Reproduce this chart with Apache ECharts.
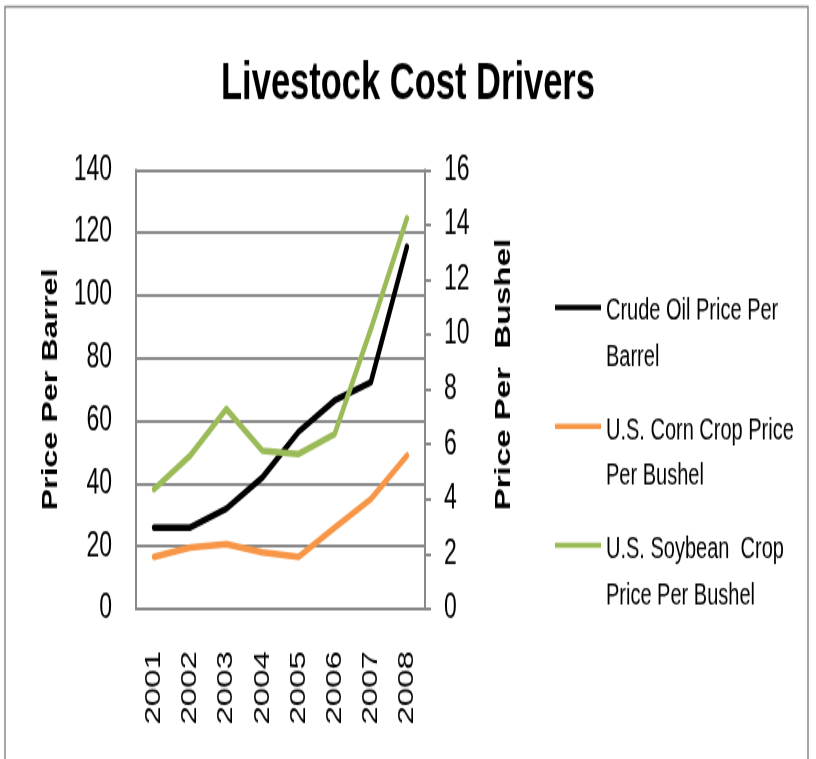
<!DOCTYPE html>
<html>
<head>
<meta charset="utf-8">
<script src="https://cdn.jsdelivr.net/npm/echarts@6/dist/echarts.min.js"></script>
<style>
  html, body { margin: 0; padding: 0; background: #fff; }
  body { width: 816px; height: 759px; }
  /* the source picture is stretched vertically, so the chart is drawn short and scaled up */
  #main { width: 816px; height: 506px; transform: scaleY(1.5); transform-origin: 0 0; }
</style>
</head>
<body>
<div id="main"></div>
<script>
// 数据
const years = ["2001", "2002", "2003", "2004", "2005", "2006", "2007", "2008"]
const seriesNames = ["Crude Oil Price Per Barrel", "U.S. Corn Crop Price Per Bushel", "U.S. Soybean Crop Price Per Bushel"]
const legendLabels = ["Crude Oil Price Per\nBarrel", "U.S. Corn Crop Price\nPer Bushel", "U.S. Soybean  Crop\nPrice Per Bushel"]
const crudeOil = [26, 26, 32, 42, 56.5, 66.5, 72.3, 115.5]
const corn = [1.9, 2.24, 2.36, 2.06, 1.9, 2.97, 4.01, 5.59]
const soybean = [4.37, 5.59, 7.29, 5.77, 5.65, 6.38, 10.2, 14.24]
const colors = ["#000000", "#F79646", "#9BBB59"]

const font = "Liberation Sans, Arial, sans-serif"
const gray = "#898989"

const myChart = echarts.init(document.getElementById("main"))

// 图例图标：顶部一条横线，底部一个不可见点把图标撑高
const legendIcon = "path://M0,0L46,0L46,3.5L0,3.5Z M0,40L0.1,40"

const option = {
  animation: false,
  title: {
    text: "Livestock Cost Drivers",
    left: "center",
    top: 34,
    textStyle: { fontFamily: font, fontSize: 34.5, fontWeight: "bold", color: "#000" },
  },
  graphic: [
    {
      type: "rect",
      shape: { x: 5, y: 4.5, width: 803, height: 600 },
      style: { fill: "none", stroke: gray, lineWidth: 1.5 },
      silent: true,
    },
  ],
  legend: {
    orient: "vertical",
    left: 550,
    top: 187.5,
    itemGap: 17.9,
    itemWidth: 46,
    itemHeight: 40,
    icon: legendIcon,
    itemStyle: { borderWidth: 0 },
    formatter: (name) => legendLabels[seriesNames.indexOf(name)],
    textStyle: { fontFamily: font, fontSize: 20, lineHeight: 30.7, color: "#000" },
    data: seriesNames,
  },
  grid: { left: 136, right: 391, top: 113.3, bottom: 100 },
  xAxis: {
    type: "category",
    data: years,
    boundaryGap: true,
    axisLine: { lineStyle: { color: gray, width: 2 } },
    axisTick: { show: false },
    axisLabel: { rotate: 90, margin: 28, fontFamily: font, fontSize: 22, color: "#000" },
  },
  yAxis: [
    {
      type: "value",
      min: 0,
      max: 140,
      interval: 20,
      name: "Price Per Barrel",
      nameLocation: "middle",
      nameGap: 74,
      nameTextStyle: { fontFamily: font, fontSize: 21.5, fontWeight: "bold", color: "#000" },
      axisLine: { show: true, lineStyle: { color: gray, width: 2 } },
      axisTick: { show: false },
      axisLabel: { margin: 24, fontFamily: font, fontSize: 23, color: "#000" },
      splitLine: { lineStyle: { color: gray, width: 2 } },
    },
    {
      type: "value",
      min: 0,
      max: 16,
      interval: 2,
      position: "right",
      name: "Price Per  Bushel",
      nameLocation: "middle",
      nameGap: 68,
      nameTextStyle: { fontFamily: font, fontSize: 22, fontWeight: "bold", color: "#000", padding: [0, 0, 0, 20] },
      axisLine: { show: true, lineStyle: { color: gray, width: 2 } },
      axisTick: { show: true, length: 6, lineStyle: { color: gray, width: 2 } },
      axisLabel: { margin: 19, fontFamily: font, fontSize: 23, color: "#000" },
      splitLine: { show: false },
    },
  ],
  series: [
    { name: seriesNames[0], type: "line", yAxisIndex: 0, data: crudeOil, color: colors[0] },
    { name: seriesNames[1], type: "line", yAxisIndex: 1, data: corn, color: colors[1] },
    { name: seriesNames[2], type: "line", yAxisIndex: 1, data: soybean, color: colors[2] },
  ].map((s) => ({
    ...s,
    symbol: "none",
    lineStyle: { width: 4.5, cap: "round", join: "round" },
  })),
}

myChart.setOption(option)
</script>
</body>
</html>
